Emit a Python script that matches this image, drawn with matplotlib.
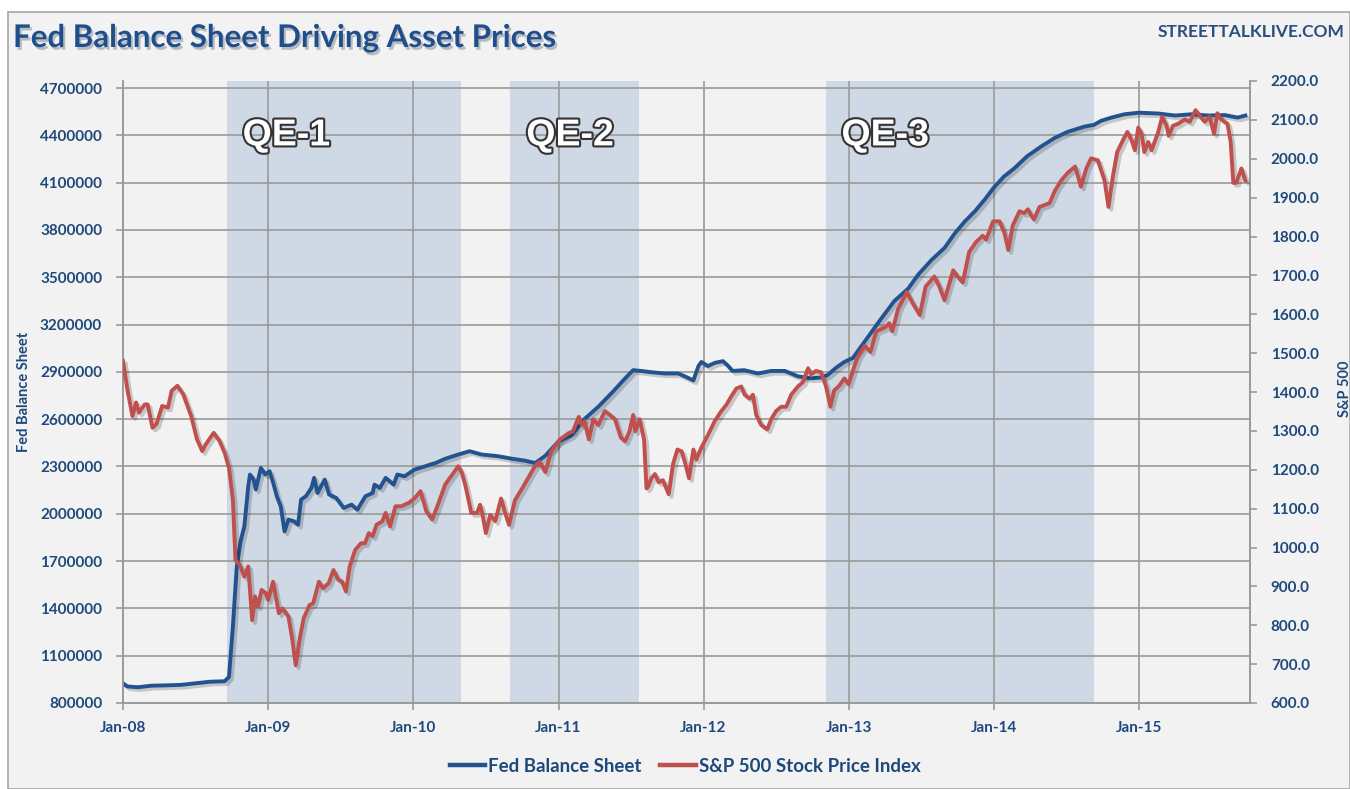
import matplotlib.pyplot as plt
import matplotlib.patheffects as pe
import numpy as np
import pandas as pd
from matplotlib.patches import Rectangle
from matplotlib.ticker import FuncFormatter

# Fed balance sheet (left axis), sampled off the chart: decimal year / value
fed_t = [2008.00, 2008.03, 2008.10, 2008.20, 2008.30, 2008.40, 2008.50, 2008.60, 2008.70,
         2008.73, 2008.757, 2008.784, 2008.81, 2008.836, 2008.863, 2008.875, 2008.90, 2008.915,
         2008.95, 2008.98, 2009.01, 2009.035, 2009.06, 2009.087, 2009.113, 2009.14, 2009.18,
         2009.206, 2009.227, 2009.26, 2009.298, 2009.317, 2009.34, 2009.39, 2009.42, 2009.47,
         2009.52, 2009.575, 2009.615, 2009.67, 2009.72, 2009.733, 2009.77, 2009.81, 2009.865,
         2009.89, 2009.94, 2010.01, 2010.07, 2010.156, 2010.22, 2010.31, 2010.388, 2010.47,
         2010.578, 2010.683, 2010.77, 2010.84, 2010.91, 2011.00, 2011.09, 2011.18, 2011.275,
         2011.37, 2011.46, 2011.515, 2011.57, 2011.64, 2011.733, 2011.825, 2011.87, 2011.93,
         2011.965, 2011.985, 2012.03, 2012.08, 2012.134, 2012.17, 2012.20, 2012.28, 2012.374,
         2012.466, 2012.56, 2012.65, 2012.74, 2012.81, 2012.855, 2012.91, 2012.97, 2013.03,
         2013.11, 2013.21, 2013.315, 2013.41, 2013.48, 2013.57, 2013.66, 2013.73, 2013.80,
         2013.87, 2013.94, 2014.00, 2014.07, 2014.14, 2014.23, 2014.33, 2014.42, 2014.51,
         2014.625, 2014.69, 2014.74, 2014.81, 2014.90, 2015.00, 2015.13, 2015.25, 2015.36,
         2015.48, 2015.59, 2015.68, 2015.733]
fed_val = [925000, 905000, 900000, 910000, 912000, 915000, 925000, 935000, 938000,
           965000, 1284000, 1666000, 1825000, 1920000, 2175000, 2249000, 2217000, 2154000,
           2291000, 2249000, 2270000, 2196000, 2111000, 2047000, 1888000, 1963000, 1952000,
           1931000, 2090000, 2111000, 2164000, 2228000, 2132000, 2217000, 2122000, 2100000,
           2037000, 2058000, 2026000, 2111000, 2132000, 2185000, 2164000, 2228000, 2185000,
           2249000, 2238000, 2281000, 2298000, 2323000, 2349000, 2376000, 2397000, 2376000,
           2366000, 2349000, 2337000, 2322000, 2368000, 2459000, 2498000, 2601000, 2679000,
           2769000, 2859000, 2911000, 2906000, 2898000, 2890000, 2890000, 2872000, 2846000,
           2937000, 2963000, 2937000, 2958000, 2968000, 2937000, 2906000, 2911000, 2890000,
           2906000, 2906000, 2872000, 2859000, 2864000, 2880000, 2924000, 2963000, 2989000,
           3092000, 3220000, 3350000, 3428000, 3518000, 3609000, 3686000, 3777000, 3854000,
           3919000, 3996000, 4069000, 4139000, 4190000, 4268000, 4332000, 4384000, 4423000,
           4456000, 4467000, 4493000, 4513000, 4534000, 4544000, 4539000, 4526000, 4534000,
           4526000, 4529000, 4513000, 4526000]

# S&P 500 (right axis)
spx_t = [2008.00, 2008.03, 2008.065, 2008.09, 2008.11, 2008.15, 2008.17, 2008.203, 2008.23,
         2008.27, 2008.31, 2008.335, 2008.375, 2008.415, 2008.47, 2008.51, 2008.546, 2008.57,
         2008.625, 2008.665, 2008.70, 2008.73, 2008.757, 2008.775, 2008.81, 2008.836, 2008.863,
         2008.89, 2008.91, 2008.93, 2008.955, 2008.985, 2009.00, 2009.034, 2009.074, 2009.10,
         2009.14, 2009.167, 2009.19, 2009.22, 2009.245, 2009.285, 2009.31, 2009.35, 2009.378,
         2009.417, 2009.45, 2009.483, 2009.51, 2009.536, 2009.562, 2009.60, 2009.641, 2009.667,
         2009.694, 2009.72, 2009.747, 2009.786, 2009.81, 2009.84, 2009.877, 2009.917, 2009.97,
         2010.01, 2010.05, 2010.09, 2010.13, 2010.17, 2010.22, 2010.27, 2010.31, 2010.335,
         2010.36, 2010.40, 2010.44, 2010.46, 2010.475, 2010.50, 2010.53, 2010.565, 2010.605,
         2010.633, 2010.66, 2010.70, 2010.75, 2010.79, 2010.84, 2010.87, 2010.91, 2010.95,
         2011.01, 2011.07, 2011.10, 2011.14, 2011.16, 2011.18, 2011.21, 2011.24, 2011.275,
         2011.32, 2011.355, 2011.39, 2011.43, 2011.46, 2011.49, 2011.515, 2011.53, 2011.56,
         2011.59, 2011.607, 2011.62, 2011.64, 2011.665, 2011.69, 2011.72, 2011.76, 2011.79,
         2011.82, 2011.85, 2011.875, 2011.90, 2011.93, 2011.95, 2011.985, 2012.03, 2012.077,
         2012.123, 2012.157, 2012.19, 2012.226, 2012.26, 2012.283, 2012.318, 2012.34, 2012.363,
         2012.397, 2012.44, 2012.466, 2012.50, 2012.535, 2012.57, 2012.604, 2012.65, 2012.684,
         2012.72, 2012.741, 2012.775, 2012.81, 2012.844, 2012.874, 2012.90, 2012.935, 2012.97,
         2013.00, 2013.03, 2013.06, 2013.11, 2013.15, 2013.19, 2013.25, 2013.28, 2013.30,
         2013.34, 2013.40, 2013.44, 2013.49, 2013.53, 2013.59, 2013.625, 2013.66, 2013.72,
         2013.75, 2013.786, 2013.83, 2013.878, 2013.924, 2013.947, 2013.995, 2014.04, 2014.075,
         2014.10, 2014.13, 2014.177, 2014.21, 2014.235, 2014.258, 2014.276, 2014.315, 2014.35,
         2014.384, 2014.42, 2014.464, 2014.51, 2014.56, 2014.60, 2014.637, 2014.67, 2014.717,
         2014.763, 2014.79, 2014.82, 2014.85, 2014.89, 2014.92, 2014.949, 2014.972, 2014.995,
         2015.018, 2015.037, 2015.064, 2015.087, 2015.133, 2015.16, 2015.19, 2015.205, 2015.235,
         2015.27, 2015.315, 2015.35, 2015.39, 2015.418, 2015.453, 2015.487, 2015.517, 2015.54,
         2015.568, 2015.61, 2015.632, 2015.65, 2015.67, 2015.706, 2015.733]
spx_val = [1480, 1407, 1338, 1373, 1347, 1368, 1368, 1308, 1317,
           1364, 1360, 1403, 1416, 1394, 1338, 1278, 1248, 1265,
           1295, 1274, 1244, 1205, 1123, 968, 951, 925, 951,
           813, 874, 848, 891, 882, 865, 912, 831, 843,
           822, 762, 697, 770, 818, 852, 856, 912, 895,
           908, 942, 917, 912, 887, 951, 994, 1011, 1011,
           1037, 1029, 1059, 1067, 1089, 1054, 1106, 1106, 1115,
           1127, 1145, 1093, 1072, 1110, 1162, 1188, 1209, 1192,
           1158, 1089, 1089, 1110, 1089, 1037, 1084, 1068, 1126,
           1089, 1058, 1121, 1152, 1178, 1210, 1220, 1194, 1247,
           1278, 1294, 1299, 1336, 1315, 1325, 1278, 1330, 1315,
           1351, 1341, 1330, 1283, 1273, 1299, 1341, 1299, 1330,
           1278, 1152, 1158, 1178, 1189, 1168, 1173, 1137, 1215,
           1252, 1247, 1215, 1178, 1252, 1226, 1257, 1289, 1325,
           1351, 1367, 1388, 1409, 1414, 1393, 1383, 1393, 1341,
           1315, 1304, 1330, 1351, 1362, 1362, 1393, 1414, 1425,
           1461, 1446, 1454, 1451, 1414, 1362, 1404, 1416, 1435,
           1420, 1456, 1488, 1519, 1503, 1556, 1566, 1577, 1556,
           1613, 1657, 1629, 1598, 1671, 1697, 1671, 1636, 1713,
           1697, 1682, 1760, 1786, 1802, 1792, 1839, 1839, 1807,
           1765, 1828, 1865, 1860, 1870, 1854, 1844, 1876, 1881,
           1886, 1917, 1944, 1964, 1980, 1928, 1975, 2001, 1996,
           1944, 1876, 1954, 2017, 2048, 2069, 2048, 2022, 2080,
           2064, 2017, 2043, 2022, 2069, 2108, 2085, 2059, 2085,
           2090, 2101, 2095, 2125, 2111, 2095, 2108, 2064, 2117,
           2101, 2090, 2043, 1938, 1938, 1975, 1944]

qe_names = ['QE-1', 'QE-2', 'QE-3']
qe_start = ['2008-09-18', '2010-09-02', '2012-11-03']
qe_end = ['2010-04-30', '2011-07-22', '2014-09-09']

year_labels = ['Jan-08', 'Jan-09', 'Jan-10', 'Jan-11', 'Jan-12', 'Jan-13', 'Jan-14', 'Jan-15']


def to_dates(years):
    years = np.asarray(years, dtype=float)
    return pd.Timestamp('2008-01-01') + pd.to_timedelta((years - 2008) * 365.25, unit='D')


navy = '#1F497D'
blue = '#23538F'
red = '#C0504D'
grid = '#9A9A9A'
font = ['Lato', 'DejaVu Sans']

fig = plt.figure(figsize=(13.5, 7.89), dpi=100)
fig.patch.set_facecolor('white')
fig.patches.append(Rectangle((8 / 1350, 0), 1 - 8 / 1350, 1 - 12 / 789, transform=fig.transFigure,
                             facecolor='#F2F2F2', edgecolor='#A6A6A6', lw=1.2, zorder=-10))

ax = fig.add_axes([123 / 1350, 86 / 789, (1250 - 123) / 1350, (703 - 81) / 789])
ax.set_facecolor('#F2F2F2')
ax2 = ax.twinx()

for s, e in zip(qe_start, qe_end):
    ax.axvspan(pd.Timestamp(s), pd.Timestamp(e), color='#CFD9E6', lw=0, zorder=0)

shadow = [pe.SimpleLineShadow(offset=(2, -2), shadow_color='k', alpha=0.18, rho=0.3), pe.Normal()]
l1, = ax.plot(to_dates(fed_t), fed_val, color=blue, lw=2.8, zorder=3, path_effects=shadow,
              solid_joinstyle='round')
l2, = ax2.plot(to_dates(spx_t), spx_val, color=red, lw=2.8, zorder=3, path_effects=shadow,
               solid_joinstyle='round')

ax.set_xlim(pd.Timestamp('2008-01-01'), to_dates([2015.765])[0])
ax.set_ylim(800000, 4745000)
ax2.set_ylim(600, 2200)
ax.set_yticks(np.arange(800000, 4700001, 300000))
ax2.set_yticks(np.arange(600, 2201, 100))
ax.yaxis.set_major_formatter(FuncFormatter(lambda v, p: f'{int(v)}'))
ax2.yaxis.set_major_formatter(FuncFormatter(lambda v, p: f'{v:.1f}'))

ticks = [pd.Timestamp(f'{y}-01-01') for y in range(2008, 2016)]
ax.set_xticks(ticks)
ax.set_xticklabels(year_labels)

ax.grid(True, color=grid, lw=1.2, zorder=1)
ax.set_axisbelow(True)
for a in (ax, ax2):
    a.spines['top'].set_visible(False)
    for side in ('left', 'right', 'bottom'):
        a.spines[side].set_color(grid)
        a.spines[side].set_linewidth(1.2)
    a.tick_params(colors=grid, length=5, width=1.2, labelcolor=navy, labelsize=11)
    for lab in a.get_yticklabels() + a.get_xticklabels():
        lab.set_fontfamily(font)
        lab.set_fontweight('bold')
ax.tick_params(axis='x', pad=8)
ax.tick_params(axis='y', pad=10)
ax2.tick_params(axis='y', pad=10)

ax.set_ylabel('Fed Balance Sheet', color=navy, fontsize=10.5, fontweight='bold', family=font)
ax.yaxis.set_label_coords(-0.082, 0.5)
ax2.set_ylabel('S&P 500', color=navy, fontsize=10.5, fontweight='bold', family=font, rotation=90)
ax2.yaxis.set_label_coords(1.078, 0.505)

qe_style = [pe.withStroke(linewidth=3, foreground='#333333')]
for name, s in zip(qe_names, qe_start):
    x0 = pd.Timestamp(s)
    ax.text(x0 + pd.Timedelta(days=40), 4400000, name, fontsize=27, fontweight='bold',
            family=['Liberation Sans', 'DejaVu Sans'], color='white', ha='left', va='center',
            path_effects=qe_style, zorder=5)

fig.text(13 / 1350, 1 - 38 / 789, 'Fed Balance Sheet Driving Asset Prices', fontsize=22.5,
         fontweight='bold', family=font, color='#1F4E8C', va='center', ha='left',
         path_effects=[pe.SimplePatchShadow(offset=(1.5, -2), alpha=0.25), pe.Normal()])
fig.text(1345 / 1350, 1 - 32 / 789, 'STREETTALKLIVE.COM', fontsize=12.5, fontweight='bold',
         family=font, color='#2B4F7E', va='center', ha='right')

leg = fig.legend([l1, l2], ['Fed Balance Sheet', 'S&P 500 Stock Price Index'], loc='center',
                 bbox_to_anchor=(685 / 1350, 1 - 766 / 789), ncol=2, frameon=False,
                 handlelength=1.9, handletextpad=0.15, columnspacing=1.0,
                 prop={'family': font, 'weight': 'bold', 'size': 13.5})
for t in leg.get_texts():
    t.set_color(navy)
for h in leg.get_lines():
    h.set_path_effects([])
    h.set_linewidth(3.2)

fig.savefig('out.png', dpi=100, facecolor=fig.get_facecolor())
